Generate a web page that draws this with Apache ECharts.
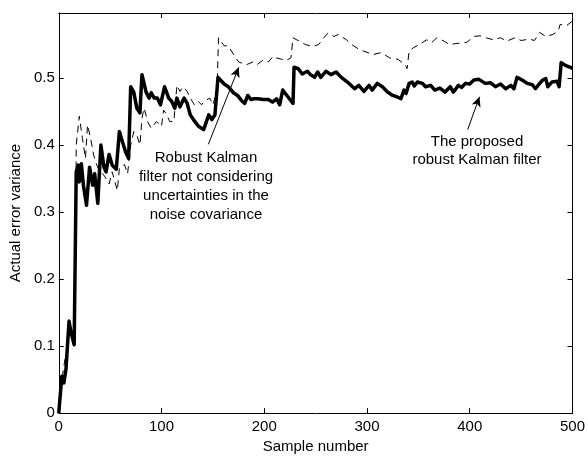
<!DOCTYPE html>
<html lang="en">
<head>
    <meta charset="utf-8">
    <title>Actual error variance</title>
    <script src="https://cdn.jsdelivr.net/npm/echarts@6/dist/echarts.min.js"></script>
    <style>
        html, body { margin: 0; padding: 0; background: #fff; }
        #chart { width: 588px; height: 459px; }
    </style>
</head>
<body>
<div id="chart"></div>
<script type="text/javascript">
    // proposed robust Kalman filter (solid, thick)
    var proposedX = [0, 1, 3, 5, 7, 10, 12, 15, 16, 17, 19, 20, 22, 24, 27, 30, 33, 35, 38, 41, 44, 46, 49, 52, 56, 59, 62, 65, 68,
        70, 73, 76, 79, 81, 85, 88, 90, 93, 96, 99, 103, 107, 110, 113, 115, 118, 122, 125, 128, 132, 136, 141, 146, 149, 152,
        155, 161, 165, 170, 174, 178, 181, 184, 187, 190, 194, 199, 204, 208, 212, 215, 218, 223, 228, 229, 233, 237, 242, 245,
        249, 252, 255, 260, 265, 270, 275, 281, 288, 292, 297, 302, 305, 310, 315, 320, 325, 329, 333, 336, 338, 341, 344, 346,
        349, 354, 357, 362, 366, 371, 376, 381, 384, 389, 392, 396, 400, 404, 409, 415, 420, 425, 430, 435, 440, 443, 446, 451,
        456, 461, 464, 467, 471, 474, 476, 480, 485, 487, 489, 493, 498, 500];
    var proposedY = [0, 0, 0.055, 0.045, 0.065, 0.137, 0.12, 0.102, 0.1, 0.36, 0.37, 0.345, 0.372, 0.34, 0.31, 0.367, 0.34, 0.357, 0.313, 0.4, 0.367, 0.36, 0.386, 0.37, 0.364, 0.42, 0.405, 0.39, 0.38,
        0.487, 0.479, 0.455, 0.448, 0.505, 0.479, 0.47, 0.478, 0.47, 0.47, 0.46, 0.487, 0.47, 0.465, 0.455, 0.47, 0.457, 0.47, 0.462, 0.445, 0.436, 0.428, 0.423, 0.445, 0.438, 0.445,
        0.501, 0.491, 0.487, 0.478, 0.474, 0.466, 0.462, 0.474, 0.468, 0.469, 0.469, 0.468, 0.468, 0.464, 0.469, 0.46, 0.482, 0.472, 0.462, 0.516, 0.514, 0.506, 0.51, 0.505,
        0.501, 0.509, 0.501, 0.51, 0.505, 0.509, 0.501, 0.494, 0.484, 0.489, 0.48, 0.489, 0.482, 0.492, 0.487, 0.479, 0.474, 0.472, 0.469, 0.482, 0.477, 0.492, 0.494, 0.488,
        0.494, 0.492, 0.487, 0.489, 0.482, 0.485, 0.479, 0.487, 0.479, 0.489, 0.486, 0.492, 0.491, 0.497, 0.498, 0.492, 0.493, 0.487, 0.491, 0.484, 0.489, 0.484, 0.501, 0.497,
        0.492, 0.49, 0.484, 0.49, 0.497, 0.499, 0.487, 0.494, 0.495, 0.487, 0.523, 0.519, 0.516, 0.514];

    // robust Kalman filter without noise covariance uncertainties (dashed, thin)
    var robustX = [0, 1, 3, 6, 8, 10, 13, 16, 17, 20, 23, 26, 28, 31, 34, 37, 40, 44, 49, 52, 57, 59, 64, 67, 70, 73, 76, 79, 81, 83,
        87, 90, 95, 100, 102, 105, 108, 112, 115, 118, 121, 125, 128, 132, 136, 139, 142, 147, 150, 154, 155.5, 161, 165, 171, 175,
        180, 183, 189, 193, 199, 204, 209, 212, 217, 221, 226, 228, 234, 240, 247, 253, 258, 262, 268, 272, 280, 285, 292, 297, 306,
        314, 322, 330, 337, 339, 341, 345, 351, 358, 363, 368, 375, 380, 390, 397, 404, 410, 416, 423, 430, 436, 444, 450, 458, 463,
        468, 474, 481, 486, 488, 494, 500];
    var robustY = [0, 0, 0.05, 0.08, 0.07, 0.14, 0.12, 0.11, 0.4, 0.443, 0.41, 0.38, 0.43, 0.41, 0.385, 0.37, 0.36, 0.355, 0.342, 0.36, 0.332, 0.365, 0.371, 0.357, 0.4, 0.42, 0.415, 0.4, 0.44, 0.455,
        0.433, 0.425, 0.435, 0.428, 0.452, 0.446, 0.435, 0.435, 0.489, 0.48, 0.487, 0.48, 0.47, 0.46, 0.465, 0.46, 0.466, 0.47, 0.46, 0.48, 0.56, 0.548, 0.548, 0.533, 0.524,
        0.521, 0.52, 0.524, 0.52, 0.527, 0.524, 0.533, 0.53, 0.528, 0.526, 0.53, 0.56, 0.555, 0.55, 0.547, 0.55, 0.56, 0.567, 0.562, 0.565, 0.557, 0.55, 0.543, 0.54, 0.535,
        0.538, 0.53, 0.528, 0.52, 0.514, 0.54, 0.545, 0.55, 0.557, 0.553, 0.56, 0.555, 0.55, 0.552, 0.553, 0.562, 0.563, 0.56, 0.557, 0.56, 0.555, 0.56, 0.556, 0.558, 0.556,
        0.568, 0.562, 0.565, 0.57, 0.58, 0.578, 0.585];

    var xTicks = [0, 100, 200, 300, 400, 500];
    var yTicks = [0, 0.1, 0.2, 0.3, 0.4, 0.5];

    function pairs(xs, ys) {
        return xs.map(function (x, i) {
            return [x, ys[i]];
        });
    }

    var font = '"Liberation Sans", Arial, Helvetica, sans-serif';
    var myChart = echarts.init(document.getElementById('chart'), null, {renderer: 'canvas'});

    var baseX = {
        type: 'value', min: xTicks[0], max: xTicks[xTicks.length - 1], interval: 100,
        splitLine: {show: false},
        axisLine: {show: true, onZero: false, lineStyle: {color: '#000', width: 1}},
        axisTick: {show: true, inside: true, length: 5, lineStyle: {color: '#000'}}
    };
    var baseY = {
        type: 'value', min: 0, max: 0.597, interval: 0.1,
        splitLine: {show: false},
        axisLine: {show: true, onZero: false, lineStyle: {color: '#000', width: 1}},
        axisTick: {show: true, inside: true, length: 5, lineStyle: {color: '#000'}}
    };

    var option = {
        animation: false,
        backgroundColor: '#fff',
        grid: {left: 57, right: 13, top: 13, bottom: 40},
        xAxis: [
            Object.assign({}, baseX, {
                position: 'bottom',
                name: 'Sample number', nameLocation: 'middle', nameGap: 23,
                nameTextStyle: {color: '#000', fontSize: 15, fontFamily: font},
                axisLabel: {color: '#000', fontSize: 15, fontFamily: font, margin: 6}
            }),
            Object.assign({}, baseX, {position: 'top', axisLabel: {show: false}})
        ],
        yAxis: [
            Object.assign({}, baseY, {
                position: 'left',
                name: 'Actual error variance', nameLocation: 'middle', nameGap: 35,
                nameTextStyle: {color: '#000', fontSize: 15, fontFamily: font},
                axisLabel: {
                    color: '#000', fontSize: 15, fontFamily: font, margin: 4, showMaxLabel: false,
                    formatter: function (v) { return yTicks.indexOf(Math.round(v * 10) / 10) >= 0 ? String(Math.round(v * 10) / 10) : ''; }
                }
            }),
            Object.assign({}, baseY, {position: 'right', axisLabel: {show: false}})
        ],
        graphic: [
            {
                type: 'text', x: 206, y: 148,
                style: {
                    text: 'Robust Kalman\nfilter not considering\nuncertainties in the\nnoise covariance',
                    fill: '#000', font: '15px ' + font, align: 'center', verticalAlign: 'top', lineHeight: 19
                }
            },
            {
                type: 'text', x: 477, y: 133,
                style: {
                    text: 'The proposed\nrobust Kalman filter',
                    fill: '#000', font: '15px ' + font, align: 'center', verticalAlign: 'top', lineHeight: 18
                }
            }
        ],
        series: [
            {
                name: 'robust',
                type: 'line',
                data: pairs(robustX, robustY),
                showSymbol: false,
                lineStyle: {color: '#000', width: 1, type: [7, 5]},
                z: 2
            },
            {
                name: 'proposed',
                type: 'line',
                data: pairs(proposedX, proposedY),
                showSymbol: false,
                lineStyle: {color: '#000', width: 3.5, join: 'round'},
                z: 3,
                markLine: {
                    silent: true,
                    symbol: ['none', 'arrow'],
                    symbolSize: [7, 10],
                    label: {show: false},
                    lineStyle: {color: '#000', width: 1, type: 'solid'},
                    data: [
                        [{coord: [145.6, 0.401]}, {coord: [175.2, 0.516]}],
                        [{coord: [398, 0.423]}, {coord: [409.5, 0.472]}]
                    ]
                }
            }
        ]
    };
    myChart.setOption(option);
</script>
</body>
</html>
